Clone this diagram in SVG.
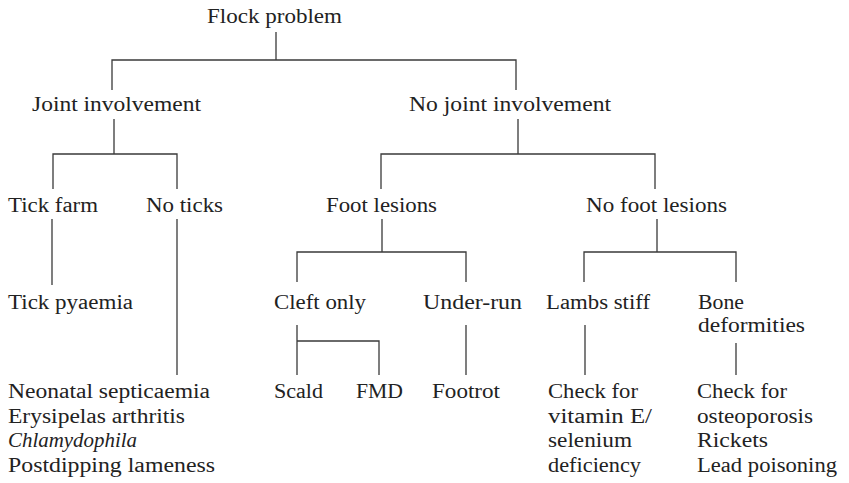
<svg xmlns="http://www.w3.org/2000/svg" width="849" height="483" viewBox="0 0 849 483">
  <style>
    text { font-size: 20px; fill: #222; }
    .it { font-style: italic; }
    .conn path { fill: none; stroke: #3a3a3a; stroke-width: 1.3; }
  </style>
  <rect width="849" height="483" fill="#fff"/>

  <!-- decision-tree connectors -->
  <g class="conn" id="connectors">
    <path d="M276 32V60M112 90V60H516V90"/>
    <path d="M114 119V154M53 189V154H177V189"/>
    <path d="M518 119V154M381 189V154H655V189"/>
    <path d="M52 219V285"/>
    <path d="M177 219V375"/>
    <path d="M382 219V252M297 282V252H466V282"/>
    <path d="M657 219V252M584 282V252H736V282"/>
    <path d="M297 325V375M297 341H379V375"/>
    <path d="M466 325V375"/>
    <path d="M585 325V375"/>
    <path d="M736 343V375"/>
  </g>

  <g font-family="'Liberation Serif', Tinos, serif">
  <g id="flock-problem"><text x="207" y="23" textLength="135" lengthAdjust="spacingAndGlyphs">Flock problem</text></g>
  <g id="joint-involvement"><text x="32" y="111" textLength="169" lengthAdjust="spacingAndGlyphs">Joint involvement</text></g>
  <g id="no-joint-involvement"><text x="409" y="111" textLength="202" lengthAdjust="spacingAndGlyphs">No joint involvement</text></g>
  <g id="tick-farm"><text x="8" y="212" textLength="90" lengthAdjust="spacingAndGlyphs">Tick farm</text></g>
  <g id="no-ticks"><text x="146" y="212" textLength="77" lengthAdjust="spacingAndGlyphs">No ticks</text></g>
  <g id="foot-lesions"><text x="326" y="212" textLength="111" lengthAdjust="spacingAndGlyphs">Foot lesions</text></g>
  <g id="no-foot-lesions"><text x="586" y="212" textLength="141" lengthAdjust="spacingAndGlyphs">No foot lesions</text></g>
  <g id="tick-pyaemia"><text x="8" y="309" textLength="125" lengthAdjust="spacingAndGlyphs">Tick pyaemia</text></g>
  <g id="cleft-only"><text x="274" y="309" textLength="92" lengthAdjust="spacingAndGlyphs">Cleft only</text></g>
  <g id="under-run"><text x="423" y="309" textLength="99" lengthAdjust="spacingAndGlyphs">Under-run</text></g>
  <g id="lambs-stiff"><text x="546" y="309" textLength="104" lengthAdjust="spacingAndGlyphs">Lambs stiff</text></g>
  <g id="bone-deformities">
    <text x="698" y="309" textLength="46" lengthAdjust="spacingAndGlyphs">Bone</text>
    <text x="698" y="332" textLength="107" lengthAdjust="spacingAndGlyphs">deformities</text>
  </g>
  <g id="no-ticks-causes">
    <text x="8" y="398" textLength="202" lengthAdjust="spacingAndGlyphs">Neonatal septicaemia</text>
    <text x="8" y="422.5" textLength="177" lengthAdjust="spacingAndGlyphs">Erysipelas arthritis</text>
    <text class="it" x="8" y="447" textLength="129" lengthAdjust="spacingAndGlyphs">Chlamydophila</text>
    <text x="8" y="471.5" textLength="207" lengthAdjust="spacingAndGlyphs">Postdipping lameness</text>
  </g>
  <g id="scald"><text x="274" y="398" textLength="49" lengthAdjust="spacingAndGlyphs">Scald</text></g>
  <g id="fmd"><text x="356" y="398" textLength="47" lengthAdjust="spacingAndGlyphs">FMD</text></g>
  <g id="footrot"><text x="432" y="398" textLength="68" lengthAdjust="spacingAndGlyphs">Footrot</text></g>
  <g id="vitamin-e-check">
    <text x="548" y="398" textLength="90" lengthAdjust="spacingAndGlyphs">Check for</text>
    <text x="548" y="422.5" textLength="104" lengthAdjust="spacingAndGlyphs">vitamin E/</text>
    <text x="548" y="447" textLength="84" lengthAdjust="spacingAndGlyphs">selenium</text>
    <text x="548" y="471.5" textLength="93" lengthAdjust="spacingAndGlyphs">deficiency</text>
  </g>
  <g id="bone-check">
    <text x="697" y="398" textLength="90" lengthAdjust="spacingAndGlyphs">Check for</text>
    <text x="697" y="422.5" textLength="116" lengthAdjust="spacingAndGlyphs">osteoporosis</text>
    <text x="697" y="447" textLength="71" lengthAdjust="spacingAndGlyphs">Rickets</text>
    <text x="697" y="471.5" textLength="140" lengthAdjust="spacingAndGlyphs">Lead poisoning</text>
  </g>
  </g>
</svg>
